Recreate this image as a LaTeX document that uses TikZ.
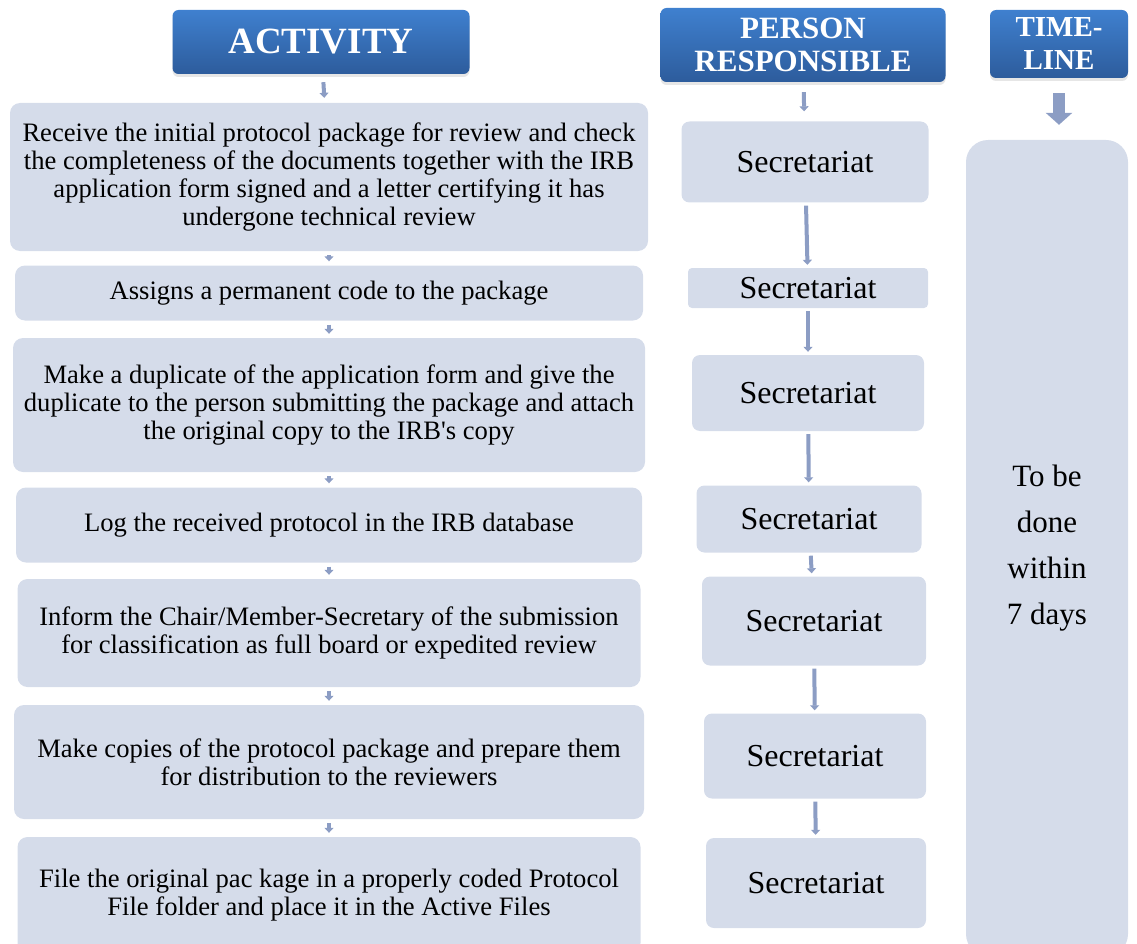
\documentclass[tikz,border=0pt]{standalone}
\usepackage{fontspec}
\setmainfont{Liberation Serif}
\usepackage{tikz}
\usetikzlibrary{arrows.meta, shadows}
\definecolor{BoxFill}{HTML}{D5DCEA}
\definecolor{HeadTop}{HTML}{3F80CF}
\definecolor{HeadBottom}{HTML}{2D5C9C}
\definecolor{FlowBlue}{HTML}{8C9DC4}

\begin{document}
\begin{tikzpicture}[
        x=1pt, y=-1pt,
        actbox/.style={
          rectangle, rounded corners=10pt,
          fill=BoxFill, align=center, inner sep=0pt,
          font=\fontsize{26.6}{28}\selectfont
        },
        secbox/.style={
          rectangle, rounded corners=8pt,
          fill=BoxFill, align=center, inner sep=0pt,
          font=\fontsize{32}{36}\selectfont
        },
        headbox/.style={
          rectangle, rounded corners=6pt,
          top color=HeadTop, bottom color=HeadBottom,
          text=white, align=center, inner sep=0pt,
          drop shadow={opacity=0.2, shadow xshift=0pt, shadow yshift=-3pt}
        },
        flow/.style={-{Triangle[width=9pt, length=5pt]}, FlowBlue, line width=4pt},
        bigflow/.style={-{Triangle[width=26pt, length=12pt]}, FlowBlue, line width=12pt}
      ]
      \useasboundingbox (0,0) rectangle (1137,944);

      % headers
      \node[headbox, minimum width=297pt, minimum height=64pt,
            font=\fontsize{37}{40}\selectfont\bfseries] (acthead) at (321,42) {ACTIVITY};
      \node[headbox, minimum width=285pt, minimum height=74pt,
            font=\fontsize{31}{33}\selectfont\bfseries] (perhead) at (803,45) {PERSON\\RESPONSIBLE};
      \node[headbox, minimum width=138pt, minimum height=68pt,
            font=\fontsize{29}{33}\selectfont\bfseries] (timehead) at (1059,44) {TIME-\\LINE};

      % activity column
      \node[actbox, minimum width=638pt, minimum height=148pt] (act1) at (329,177)
        {Receive the initial protocol package for review and check\\
         the completeness of the documents together with the IRB\\
         application form signed and a letter certifying it has\\
         undergone technical review};
      \node[actbox, minimum width=628pt, minimum height=55pt] (act2) at (329,293)
        {Assigns a permanent code to the package};
      \node[actbox, minimum width=632pt, minimum height=134pt] (act3) at (329,405)
        {Make a duplicate of the application form and give the\\
         duplicate to the person submitting the package and attach\\
         the original copy to the IRB\textquotesingle s copy};
      \node[actbox, minimum width=626pt, minimum height=75pt] (act4) at (329,525)
        {Log the received protocol in the IRB database};
      \node[actbox, minimum width=623pt, minimum height=108pt] (act5) at (329,633)
        {Inform the Chair/Member-Secretary of the submission\\
         for classification as full board or expedited review};
      \node[actbox, minimum width=630pt, minimum height=114pt] (act6) at (329,762)
        {Make copies of the protocol package and prepare them\\
         for distribution to the reviewers};
      \node[actbox, minimum width=623pt, minimum height=116pt] (act7) at (329,895)
        {File the original pac kage in a properly coded Protocol\\
         File folder and place it in the Active Files};

      % person responsible column
      \node[secbox, minimum width=247pt, minimum height=81pt] (sec1) at (805,162) {Secretariat};
      \node[secbox, rounded corners=4pt, minimum width=240pt, minimum height=40pt] (sec2) at (808,288) {Secretariat};
      \node[secbox, minimum width=232pt, minimum height=76pt] (sec3) at (808,393) {Secretariat};
      \node[secbox, minimum width=225pt, minimum height=67pt] (sec4) at (809,519) {Secretariat};
      \node[secbox, minimum width=224pt, minimum height=89pt] (sec5) at (814,621) {Secretariat};
      \node[secbox, minimum width=222pt, minimum height=85pt] (sec6) at (815,756) {Secretariat};
      \node[secbox, minimum width=220pt, minimum height=90pt] (sec7) at (816,883) {Secretariat};

      % timeline column
      \node[actbox, rounded corners=22pt, minimum width=162pt, minimum height=816pt,
            font=\fontsize{31}{46}\selectfont] (limit) at (1047,548)
        {To be\\done\\within\\7 days};

      % connectors
      \draw[flow, shorten <=8pt, shorten >=5pt] (acthead) -- (act1);
      \foreach \a/\b in {act1/act2, act2/act3, act3/act4, act4/act5, act5/act6, act6/act7}
        \draw[flow, shorten <=4pt, shorten >=4pt] (\a) -- (\b);
      \draw[flow, shorten <=10pt, shorten >=10pt] (perhead) -- (sec1);
      \foreach \a/\b in {sec1/sec2, sec2/sec3, sec3/sec4, sec4/sec5, sec5/sec6, sec6/sec7}
        \draw[flow, shorten <=3pt, shorten >=3pt] (\a) -- (\b);
      \draw[bigflow, shorten <=15pt, shorten >=15pt] (timehead.south) -- (timehead.south |- limit.north);
    \end{tikzpicture}
\end{document}
